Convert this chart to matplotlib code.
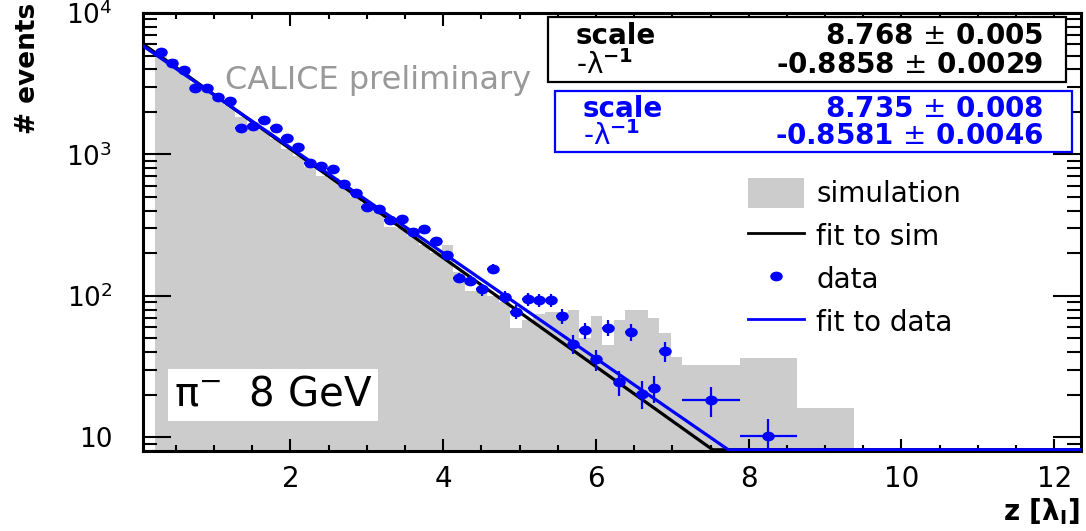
import numpy as np
import matplotlib.pyplot as plt
from matplotlib.patches import Rectangle, Patch
from matplotlib.lines import Line2D
from matplotlib.path import Path
from matplotlib.ticker import FixedLocator, LogLocator, NullFormatter

plt.rcParams['font.family'] = ['DejaVu Sans']
plt.rcParams['mathtext.fontset'] = 'dejavusans'

# binning: 46 fine bins of 0.15 lambda, then 3 merged bins of 0.75 lambda
bin_lo = 0.23
bin_w = 0.15
n_fine = 46
wide_w = 0.75
n_wide = 3
edges = np.r_[bin_lo + bin_w * np.arange(n_fine + 1),
              bin_lo + bin_w * n_fine + wide_w * np.arange(1, n_wide + 1)]
centers = 0.5 * (edges[:-1] + edges[1:])
half_w = 0.5 * np.diff(edges)

# simulation histogram (events per bin)
sim = [5050, 4700, 4130, 3200, 2850, 2450, 2250, 1840, 1650, 1500,
       1290, 1100, 980, 815, 700, 680, 590, 500, 450, 390,
       308, 300, 263, 228, 200, 228, 148, 109, 115, 100,
       90, 59.4, 68, 75, 77, 77, 79, 50, 72, 45,
       67, 80, 79, 70, 55, 36.7,
       32.3, 36.6, 16.2]

# data points (nan = empty / below range)
data = [5280, 4412, 3957, 2937, 2937, 2561, 2388, 1545, 1596, 1752,
        1545, 1313, 1134, 869, 831, 785, 614, 531, 426, 409,
        343, 347, 284, 295, 244, 194, 134.5, 128, 111, 156,
        98.4, 77.0, 94.8, 93.2, 93.2, 71.8, 45.9, 57.2, 35.6, 59.6,
        24.6, 55.6, 20.4, 22.3, 40.6, np.nan,
        18.3, 10.2, np.nan]

# exponential fits: exp(scale - z/lambda)
sim_scale, sim_err = 8.768, 0.005
sim_slope, sim_slope_err = -0.8858, 0.0029
dat_scale, dat_err = 8.735, 0.008
dat_slope, dat_slope_err = -0.8581, 0.0046

xmin, xmax = 0.07, 12.35
ymin, ymax = 8, 1e4

W, H = 1086, 531
def fx(px):
    return px / W
def fy(py):
    return 1 - py / H

fig = plt.figure(figsize=(W / 100, H / 100), dpi=100)
ax = fig.add_axes([fx(143), fy(451), fx(1081) - fx(143), fy(13) - fy(451)])

ax.stairs(sim, edges, fill=True, color='#cccccc', baseline=1, zorder=1)

zz = np.linspace(xmin, xmax, 2000)
ax.plot(zz, np.maximum(np.exp(sim_scale + sim_slope * zz), ymin * 1.02),
        color='black', lw=2.3, zorder=3)
ax.plot(zz, np.maximum(np.exp(dat_scale + dat_slope * zz), ymin * 1.02),
        color='#0000ff', lw=2.3, zorder=4)

data = np.array(data)
circ = Path.unit_circle()
ellipse = Path(circ.vertices * [1.0, 0.75], circ.codes)
ax.errorbar(centers, data, xerr=half_w, yerr=np.sqrt(data), fmt='none',
            ecolor='#0000ff', elinewidth=1.6, capsize=0, zorder=5)
ax.plot(centers, data, ls='none', marker=ellipse, ms=8, color='#0000ff', zorder=6)

ax.set_xlim(xmin, xmax)
ax.set_yscale('log')
ax.set_ylim(ymin, ymax)

ax.xaxis.set_major_locator(FixedLocator([2, 4, 6, 8, 10, 12]))
ax.xaxis.set_minor_locator(FixedLocator(np.arange(0.5, 12.4, 0.5)))
ax.yaxis.set_major_locator(FixedLocator([10, 100, 1000, 10000]))
ax.yaxis.set_minor_locator(LogLocator(base=10, subs=np.arange(2, 10)))
ax.yaxis.set_minor_formatter(NullFormatter())
ax.set_yticklabels(['10', r'$10^{2}$', r'$10^{3}$', r'$10^{4}$'])

ax.tick_params(axis='both', which='both', direction='in', top=True, right=True,
               width=1.5, colors='black')
ax.tick_params(axis='x', which='major', length=9, labelsize=20, pad=10)
ax.tick_params(axis='x', which='minor', length=4.5)
ax.tick_params(axis='y', which='major', length=20, labelsize=19, pad=22)
ax.tick_params(axis='y', which='minor', length=10)
for s in ax.spines.values():
    s.set_linewidth(2.2)

fig.text(fx(1080), fy(512), r'z [$\mathbf{\lambda_{I}}$]', ha='right', va='center',
         fontsize=20, fontweight='bold')
fig.text(fx(28), fy(68), '# events', rotation=90, ha='center', va='center',
         fontsize=19, fontweight='bold')

fig.text(fx(225), fy(80), 'CALICE preliminary', color='#999999', fontsize=23,
         ha='left', va='center')

ax.text(0.033, 0.128, 'π$^{-}$  8 GeV', transform=ax.transAxes, fontsize=29,
        ha='left', va='center',
        bbox=dict(facecolor='white', edgecolor='none', pad=4))

# fit result boxes
boxes = [(548, 17, 1066, 82, 'black', sim_scale, sim_err, sim_slope, sim_slope_err),
         (555, 91, 1072, 152, '#0000ff', dat_scale, dat_err, dat_slope, dat_slope_err)]
for x0, y0, x1, y1, col, sc, sce, sl, sle in boxes:
    fig.patches.append(Rectangle((fx(x0), fy(y1)), fx(x1) - fx(x0), fy(y0) - fy(y1),
                                 transform=fig.transFigure, facecolor='white',
                                 edgecolor=col, lw=1.6, zorder=10))
    r1 = y0 + 0.3 * (y1 - y0)
    r2 = y0 + 0.74 * (y1 - y0)
    fig.text(fx(x0 + 28), fy(r1), 'scale', color=col, fontsize=20, fontweight='bold',
             ha='left', va='center', zorder=11)
    fig.text(fx(1043), fy(r1), '%.3f $\\pm$ %.3f' % (sc, sce), color=col, fontsize=20,
             fontweight='bold', ha='right', va='center', zorder=11)
    fig.text(fx(x0 + 28), fy(r2), '-λ$^{\\mathbf{-1}}$', color=col, fontsize=20,
             ha='left', va='center', zorder=11)
    fig.text(fx(1043), fy(r2), '%.4f $\\pm$ %.4f' % (sl, sle), color=col, fontsize=20,
             fontweight='bold', ha='right', va='center', zorder=11)

handles = [Patch(facecolor='#cccccc', edgecolor='none'),
           Line2D([], [], color='black', lw=2),
           Line2D([], [], ls='none', marker=ellipse, ms=8, color='#0000ff'),
           Line2D([], [], color='#0000ff', lw=2)]
labels = ['simulation', 'fit to sim', 'data', 'fit to data']
leg = fig.legend(handles, labels, loc='upper left', bbox_to_anchor=(fx(748), fy(178)),
                 frameon=False, fontsize=20, handlelength=2.0, handleheight=1.3,
                 handletextpad=0.45, labelspacing=0.45, borderaxespad=0, borderpad=0)

fig.savefig('out.png', dpi=100)
